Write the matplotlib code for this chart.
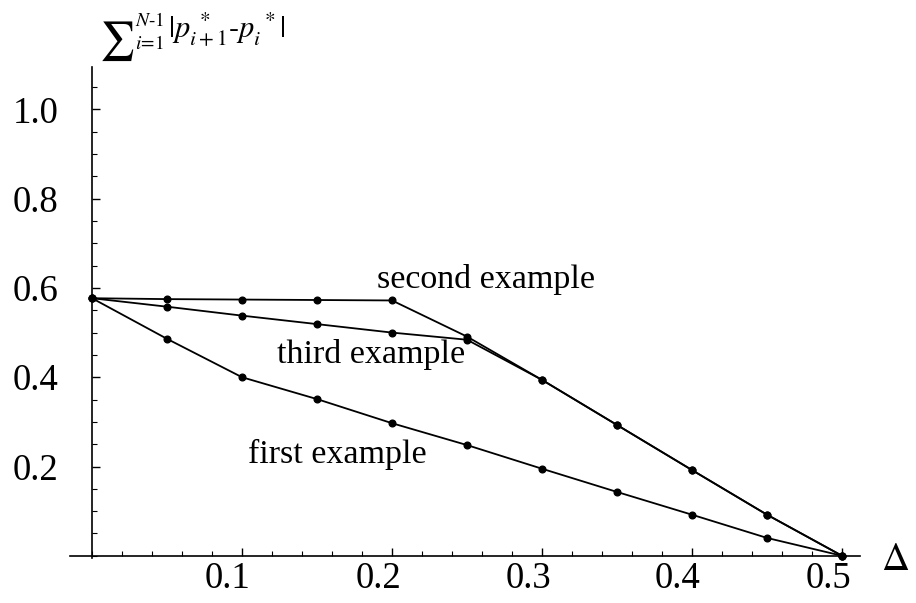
import numpy as np
import matplotlib
matplotlib.use('Agg')
import matplotlib.pyplot as plt
import matplotlib.transforms as mtransforms
from matplotlib.ticker import MultipleLocator, FixedLocator

plt.rcParams['font.family'] = ['Liberation Serif', 'DejaVu Serif']
plt.rcParams['mathtext.fontset'] = 'stix'

# spread parameter Delta and the summed price differences for each example
delta = [0.0, 0.05, 0.10, 0.15, 0.20, 0.25, 0.30, 0.35, 0.40, 0.45, 0.50]
first_example = [0.577, 0.486, 0.400, 0.351, 0.297, 0.248, 0.195, 0.143, 0.092, 0.040, 0.0]
second_example = [0.577, 0.575, 0.574, 0.573, 0.572, 0.491, 0.394, 0.293, 0.192, 0.092, 0.0]
third_example = [0.577, 0.558, 0.538, 0.519, 0.500, 0.484, 0.394, 0.293, 0.192, 0.092, 0.0]

x_major = [0.1, 0.2, 0.3, 0.4, 0.5]
y_major = [0.2, 0.4, 0.6, 0.8, 1.0]

W, H = 916, 603
fig = plt.figure(figsize=(W / 100, H / 100), dpi=100)
ax = fig.add_axes([0.0759, 0.0746, 0.863, 0.8143])

for series in (first_example, second_example, third_example):
    ax.plot(delta, series, color='black', linewidth=1.3, marker='o',
            markersize=4.8, clip_on=False)

ax.set_xlim(-0.015, 0.512)
ax.set_ylim(-0.005, 1.095)

# axes cross at the origin, no frame
for side in ('top', 'right'):
    ax.spines[side].set_visible(False)
ax.spines['left'].set_position(('data', 0))
ax.spines['bottom'].set_position(('data', 0))
ax.spines['left'].set_linewidth(1.2)
ax.spines['bottom'].set_linewidth(1.2)

ax.xaxis.set_major_locator(FixedLocator(x_major))
ax.yaxis.set_major_locator(FixedLocator(y_major))
ax.xaxis.set_minor_locator(MultipleLocator(0.02))
ax.yaxis.set_minor_locator(MultipleLocator(0.05))
ax.set_xticklabels(['%.1f' % v for v in x_major])
ax.set_yticklabels(['%.1f' % v for v in y_major])

ax.tick_params(which='major', direction='in', length=6, width=1, labelsize=26.5)
ax.tick_params(which='minor', direction='in', length=3.5, width=0.8)
ax.tick_params(axis='x', which='major', pad=4)
ax.tick_params(axis='y', which='major', pad=24)

shift = mtransforms.ScaledTranslation(-14 / 100, 0, fig.dpi_scale_trans)
for lab in ax.get_xticklabels():
    lab.set_transform(lab.get_transform() + shift)

ax.text(0.190, 0.618, 'second example', fontsize=24.5, va='center', ha='left')
ax.text(0.123, 0.450, 'third example', fontsize=24.5, va='center', ha='left')
ax.text(0.104, 0.226, 'first example', fontsize=24.5, va='center', ha='left')

# y-axis label: sum sign, its limits, then the absolute difference
fig.text(99 / W, 1 - 51 / H, r'$\sum$', fontsize=28, va='baseline', ha='left')
fig.text(135 / W, 1 - 21 / H, r'$N\text{-}1$', fontsize=14, va='center', ha='left')
fig.text(135 / W, 1 - 44 / H, r'$i\!=\!1$', fontsize=14, va='center', ha='left')
fig.text(168 / W, 1 - 38 / H, r'$|p_{i+1}^{\ *}\text{-}p_{i}^{\ *}|$',
         fontsize=22, va='baseline', ha='left')

fig.text(895 / W, 1 - 560 / H, r'$\Delta$', fontsize=28,
         va='center', ha='center')

fig.savefig('out.png', dpi=100)
